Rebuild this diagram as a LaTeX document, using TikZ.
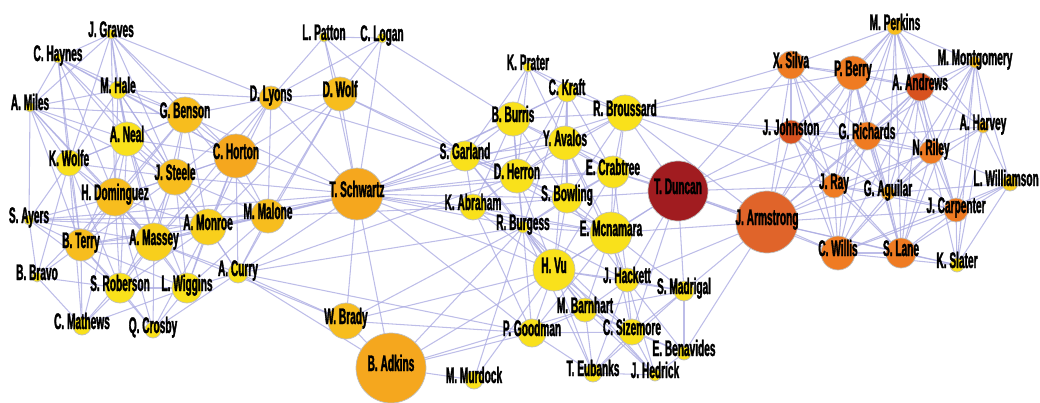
\documentclass[tikz,border=0pt]{standalone}
\usepackage{fontspec}
\setmainfont{Liberation Sans}
\newfontfamily\namefont[FakeStretch=0.45, FakeBold=1.5]{Liberation Sans Bold}
\usetikzlibrary{backgrounds}

\definecolor{yel}{HTML}{F9E11B}
\definecolor{ygold}{HTML}{F8CF1C}
\definecolor{gold}{HTML}{F7BD1E}
\definecolor{orng}{HTML}{F5A71E}
\definecolor{dorng}{HTML}{EF7B22}
\definecolor{rorng}{HTML}{D8521F}
\definecolor{arm}{HTML}{E0642A}
\definecolor{dred}{HTML}{A11C20}
\definecolor{linkcol}{HTML}{ACACE2}

\begin{document}
\begin{tikzpicture}[x=0.025cm, y=-0.025cm,
  person/.style={circle, draw=black!25, line width=0.5pt, inner sep=0pt},
  tag/.style={font=\namefont\fontsize{16}{18}\selectfont, inner sep=0pt, anchor=base},
  link/.style={linkcol, line width=0.75pt, opacity=0.8}]
\path [use as bounding box] (0,0) rectangle (1040,402);

% people: id / x / y / radius / colour / name
\foreach \id/\x/\y/\r/\c/\t in {
  graves/111/34/5/yel/J. Graves, haynes/58/58/5/yel/C. Haynes,
  miles/30/107/5/yel/A. Miles, hale/118/90/9/yel/M. Hale,
  benson/185/115/18/gold/G. Benson, neal/127/139/17/yel/A. Neal,
  wolfe/69/163/13/yel/K. Wolfe, horton/236/156/22/orng/C. Horton,
  lyons/271/98/12/gold/D. Lyons, steele/175/177/18/gold/J. Steele,
  dominguez/115/197/19/gold/H. Dominguez, ayers/29/220/5/yel/S. Ayers,
  terry/81/245/16/gold/B. Terry, massey/154/242/19/ygold/A. Massey,
  monroe/208/227/18/ygold/A. Monroe, malone/268/216/17/gold/M. Malone,
  bravo/37/277/5/yel/B. Bravo, curry/238/273/10/yel/A. Curry,
  roberson/120/288/15/yel/S. Roberson, wiggins/187/288/15/yel/L. Wiggins,
  mathews/82/326/9/yel/C. Mathews, crosby/153/330/8/yel/Q. Crosby,
  patton/324/37/5/yel/L. Patton, logan/382/38/5/yel/C. Logan,
  dwolf/340/94/17/gold/D. Wolf, schwartz/357/194/26/orng/T. Schwartz,
  brady/346/321/18/gold/W. Brady, adkins/391/368/35/orng/B. Adkins,
  murdock/474/380/9/yel/M. Murdock, prater/528/67/5/yel/K. Prater,
  burris/513/119/17/yel/B. Burris, garland/465/156/15/yel/S. Garland,
  herron/517/176/17/yel/D. Herron, abraham/473/207/13/yel/K. Abraham,
  burgess/523/227/6/yel/R. Burgess, kraft/567/92/10/yel/C. Kraft,
  broussard/625/113/18/yel/R. Broussard, avalos/565/143/17/yel/Y. Avalos,
  crabtree/613/172/16/yel/E. Crabtree, bowling/567/198/15/yel/S. Bowling,
  duncan/678/191/30/dred/T. Duncan, mcnamara/611/233/21/yel/E. Mcnamara,
  vu/554/270/21/yel/H. Vu, hackett/627/280/12/yel/J. Hackett,
  madrigal/684/291/10/yel/S. Madrigal, barnhart/585/310/12/yel/M. Barnhart,
  goodman/532/333/14/yel/P. Goodman, sizemore/632/332/13/yel/C. Sizemore,
  benavides/684/353/7/yel/E. Benavides, eubanks/593/373/9/yel/T. Eubanks,
  hedrick/655/375/6/yel/J. Hedrick, armstrong/767/222/31/arm/J. Armstrong,
  perkins/895/27/8/gold/M. Perkins, silva/791/65/14/dorng/X. Silva,
  berry/853/73/17/dorng/P. Berry, andrews/920/87/14/rorng/A. Andrews,
  montgomery/975/62/6/gold/M. Montgomery, johnston/791/132/12/rorng/J. Johnston,
  richards/867/136/14/dorng/G. Richards, harvey/983/127/6/gold/A. Harvey,
  riley/931/152/12/dorng/N. Riley, ray/834/186/12/dorng/J. Ray,
  aguilar/888/193/7/orng/G. Aguilar,
  carpenter/956/210/12/dorng/J. Carpenter, willis/838/253/17/dorng/C. Willis,
  lane/901/253/15/dorng/S. Lane, slater/957/265/7/yel/K. Slater}
{
  \node[person, fill=\c, minimum size=2*\r*0.025cm] (\id) at (\x,\y) {};
  \node[tag] (\id-name) at (\x,\y+3) {\t};
}
% at the right edge the name sits a little to the left of its circle
\node[person, fill=ygold, minimum size=16*0.025cm] (williamson) at (1010,183) {};
\node[tag, anchor=base east] (williamson-name) at (1039,186) {L. Williamson};

% links between people
\begin{scope}[on background layer]
\foreach \a/\b in {
  graves/haynes, graves/hale, graves/miles, graves/benson, graves/neal,
  graves/lyons, graves/horton, graves/steele, graves/wolfe, graves/dominguez,
  haynes/miles, haynes/hale, haynes/wolfe, haynes/benson, haynes/neal,
  haynes/terry, haynes/steele, haynes/dominguez, haynes/horton,
  miles/hale, miles/wolfe, miles/neal, miles/benson, miles/dominguez,
  miles/terry, miles/ayers, miles/massey, miles/steele,
  hale/benson, hale/neal, hale/steele, hale/dominguez, hale/wolfe,
  hale/massey, hale/horton, hale/lyons, hale/monroe,
  benson/neal, benson/horton, benson/steele, benson/lyons, benson/dominguez,
  benson/massey, benson/monroe, benson/malone, benson/terry, benson/wolfe,
  benson/schwartz,
  neal/steele, neal/dominguez, neal/wolfe, neal/massey, neal/terry,
  neal/horton, neal/monroe, neal/roberson, neal/wiggins,
  wolfe/dominguez, wolfe/terry, wolfe/ayers, wolfe/bravo, wolfe/massey,
  wolfe/roberson, wolfe/steele, wolfe/mathews,
  horton/steele, horton/lyons, horton/monroe, horton/malone, horton/massey,
  horton/schwartz, horton/dwolf, horton/dominguez, horton/curry, horton/wiggins,
  lyons/dwolf, lyons/patton, lyons/logan, lyons/schwartz, lyons/steele,
  lyons/malone, lyons/monroe, lyons/massey, lyons/garland,
  steele/dominguez, steele/massey, steele/monroe, steele/terry, steele/roberson,
  steele/wiggins, steele/malone, steele/schwartz, steele/curry,
  dominguez/ayers, dominguez/terry, dominguez/massey, dominguez/monroe,
  dominguez/roberson, dominguez/bravo, dominguez/wiggins, dominguez/mathews,
  dominguez/crosby,
  ayers/terry, ayers/bravo, ayers/massey, ayers/roberson, ayers/monroe,
  ayers/malone, ayers/schwartz,
  terry/massey, terry/bravo, terry/roberson, terry/mathews, terry/monroe,
  terry/wiggins, terry/crosby, terry/schwartz,
  massey/monroe, massey/roberson, massey/wiggins, massey/mathews, massey/crosby,
  massey/curry, massey/malone, massey/schwartz, massey/brady,
  monroe/malone, monroe/curry, monroe/wiggins, monroe/roberson, monroe/crosby,
  monroe/schwartz, monroe/dwolf,
  malone/curry, malone/wiggins, malone/schwartz, malone/dwolf, malone/abraham,
  curry/wiggins, curry/crosby, curry/schwartz, curry/adkins, curry/brady,
  curry/burgess, curry/herron, curry/goodman,
  roberson/wiggins, roberson/mathews, roberson/crosby, roberson/bravo,
  wiggins/crosby, wiggins/mathews, bravo/mathews,
  patton/logan, patton/dwolf, patton/garland, patton/schwartz,
  logan/dwolf, logan/schwartz, logan/burris,
  dwolf/schwartz, dwolf/garland, dwolf/herron, dwolf/curry,
  schwartz/garland, schwartz/herron, schwartz/abraham, schwartz/burgess,
  schwartz/avalos, schwartz/broussard, schwartz/kraft, schwartz/bowling,
  schwartz/crabtree, schwartz/adkins, schwartz/brady, schwartz/vu,
  schwartz/goodman, schwartz/mcnamara, schwartz/burris,
  brady/adkins, brady/goodman, brady/burgess, brady/vu,
  adkins/murdock, adkins/goodman, adkins/burgess, adkins/vu, adkins/barnhart,
  murdock/burgess, murdock/vu,
  prater/burris, prater/kraft, prater/herron, prater/avalos, prater/garland,
  prater/broussard,
  burris/kraft, burris/garland, burris/herron, burris/avalos, burris/broussard,
  burris/abraham, burris/bowling, burris/crabtree, burris/burgess,
  kraft/avalos, kraft/broussard, kraft/herron, kraft/crabtree, kraft/bowling,
  kraft/burgess,
  garland/herron, garland/abraham, garland/burgess, garland/avalos,
  garland/bowling, garland/mcnamara, garland/vu,
  herron/abraham, herron/burgess, herron/avalos, herron/bowling,
  herron/crabtree, herron/mcnamara, herron/vu, herron/broussard,
  abraham/burgess, abraham/bowling, abraham/vu, abraham/mcnamara, abraham/goodman,
  burgess/vu, burgess/mcnamara, burgess/bowling, burgess/hackett,
  burgess/barnhart, burgess/goodman, burgess/sizemore, burgess/eubanks,
  burgess/hedrick, burgess/crabtree,
  broussard/avalos, broussard/crabtree, broussard/duncan, broussard/armstrong,
  broussard/silva, broussard/johnston, broussard/berry, broussard/richards,
  broussard/bowling, broussard/mcnamara, broussard/ray,
  avalos/crabtree, avalos/bowling, avalos/mcnamara, avalos/vu, avalos/duncan,
  avalos/hackett,
  crabtree/bowling, crabtree/mcnamara, crabtree/duncan, crabtree/armstrong,
  crabtree/hackett, crabtree/vu,
  bowling/mcnamara, bowling/vu, bowling/duncan, bowling/hackett,
  duncan/armstrong, duncan/mcnamara, duncan/hackett, duncan/madrigal,
  duncan/vu, duncan/johnston, duncan/silva, duncan/ray, duncan/richards,
  duncan/willis, duncan/sizemore,
  mcnamara/vu, mcnamara/hackett, mcnamara/madrigal, mcnamara/barnhart,
  mcnamara/sizemore, mcnamara/goodman, mcnamara/armstrong,
  vu/hackett, vu/barnhart, vu/goodman, vu/sizemore, vu/eubanks, vu/madrigal,
  vu/hedrick,
  hackett/madrigal, hackett/barnhart, hackett/sizemore, hackett/benavides,
  hackett/hedrick, hackett/eubanks, hackett/armstrong,
  madrigal/sizemore, madrigal/benavides, madrigal/barnhart, madrigal/armstrong,
  madrigal/eubanks,
  barnhart/goodman, barnhart/sizemore, barnhart/eubanks, barnhart/hedrick,
  barnhart/benavides,
  goodman/sizemore, goodman/eubanks,
  sizemore/benavides, sizemore/eubanks, sizemore/hedrick,
  eubanks/hedrick, benavides/armstrong, benavides/hedrick,
  armstrong/silva, armstrong/berry, armstrong/johnston, armstrong/richards,
  armstrong/ray, armstrong/willis, armstrong/lane, armstrong/aguilar,
  armstrong/andrews, armstrong/perkins, armstrong/carpenter, armstrong/riley,
  armstrong/slater,
  perkins/silva, perkins/berry, perkins/andrews, perkins/montgomery,
  perkins/richards, perkins/riley, perkins/johnston, perkins/ray,
  perkins/aguilar, perkins/harvey, perkins/lane, perkins/carpenter,
  silva/berry, silva/johnston, silva/richards, silva/ray, silva/andrews,
  silva/willis, silva/aguilar,
  berry/andrews, berry/johnston, berry/richards, berry/ray, berry/riley,
  berry/willis, berry/aguilar, berry/lane, berry/montgomery,
  andrews/montgomery, andrews/richards, andrews/riley, andrews/harvey,
  andrews/johnston, andrews/ray, andrews/aguilar, andrews/carpenter,
  andrews/lane, andrews/willis,
  montgomery/harvey, montgomery/riley, montgomery/carpenter,
  montgomery/williamson, montgomery/richards, montgomery/lane,
  montgomery/slater, montgomery/aguilar,
  johnston/richards, johnston/ray, johnston/willis, johnston/riley,
  johnston/aguilar, johnston/lane,
  richards/riley, richards/ray, richards/aguilar, richards/willis,
  richards/lane, richards/carpenter, richards/harvey,
  harvey/riley, harvey/williamson, harvey/carpenter, harvey/slater,
  harvey/aguilar,
  riley/aguilar, riley/carpenter, riley/lane, riley/williamson, riley/willis,
  riley/ray, riley/slater,
  ray/aguilar, ray/willis, ray/lane, ray/carpenter,
  aguilar/willis, aguilar/lane, aguilar/carpenter, aguilar/williamson,
  williamson/carpenter, williamson/slater, williamson/lane, williamson/willis,
  carpenter/lane, carpenter/slater, carpenter/willis,
  willis/lane, willis/slater, lane/slater}
  \draw[link] (\a.center) -- (\b.center);
\end{scope}
\end{tikzpicture}
\end{document}
